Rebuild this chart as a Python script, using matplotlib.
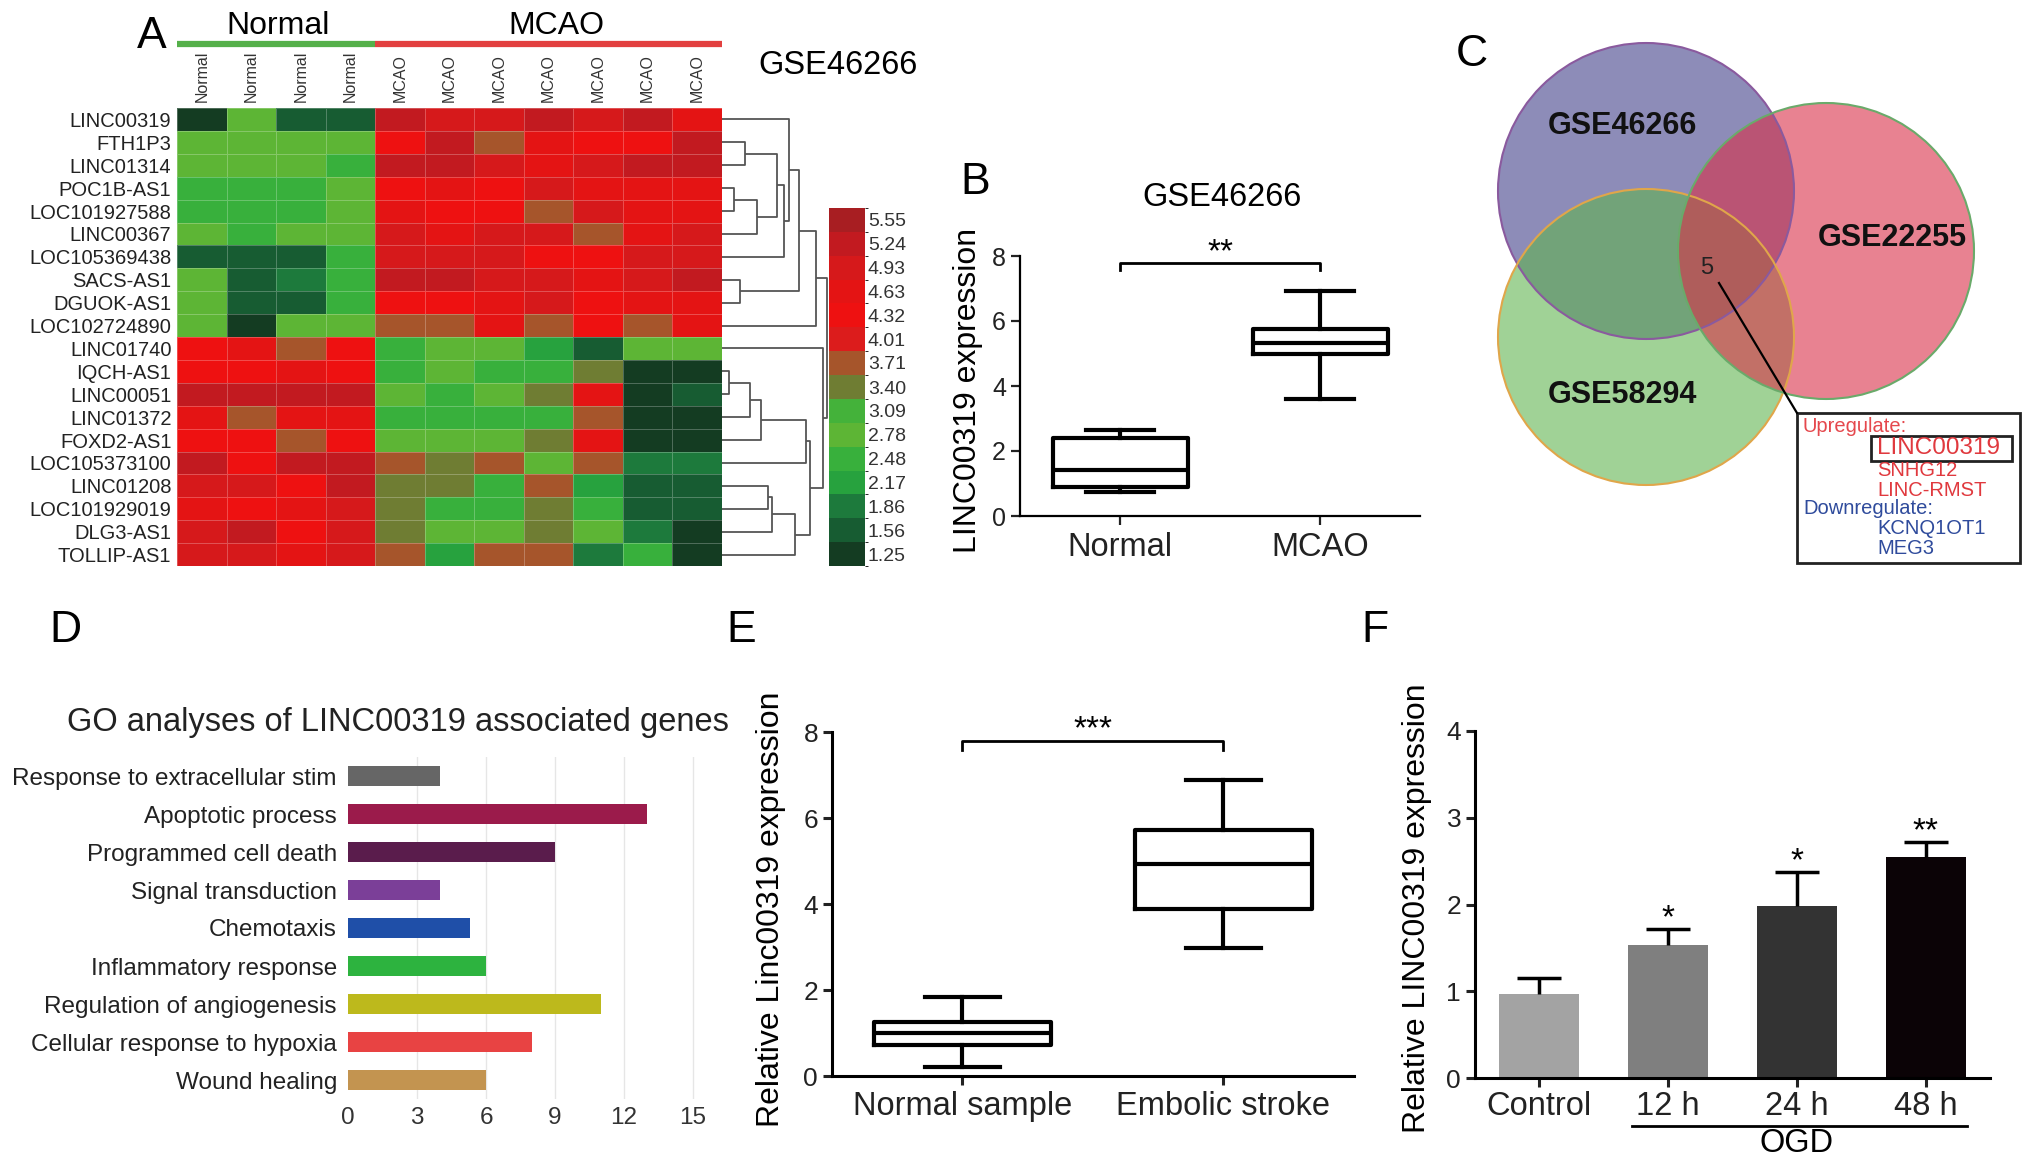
import matplotlib
matplotlib.use("Agg")
import matplotlib.pyplot as plt
import numpy as np
from matplotlib.colors import ListedColormap, BoundaryNorm
from matplotlib.cm import ScalarMappable
from matplotlib.patches import Circle, Rectangle

plt.rcParams['font.family'] = ['Liberation Sans', 'DejaVu Sans']

W, H = 2032, 1165

# ---------------- data ----------------
genes = ['LINC00319', 'FTH1P3', 'LINC01314', 'POC1B-AS1', 'LOC101927588', 'LINC00367',
         'LOC105369438', 'SACS-AS1', 'DGUOK-AS1', 'LOC102724890', 'LINC01740', 'IQCH-AS1',
         'LINC00051', 'LINC01372', 'FOXD2-AS1', 'LOC105373100', 'LINC01208', 'LOC101929019',
         'DLG3-AS1', 'TOLLIP-AS1']
samples = ['Normal'] * 4 + ['MCAO'] * 7
cbar_levels = [1.25, 1.56, 1.86, 2.17, 2.48, 2.78, 3.09, 3.40, 3.71, 4.01, 4.32, 4.63, 4.93, 5.24, 5.55]
cbar_colors = ['#143c22', '#175c32', '#1d7a3c', '#27a23e', '#38b03c', '#5db535', '#44b23a',
               '#6f7d33', '#a6552b', '#dc1c1c', '#ee1111', '#e41414', '#d6191b', '#c21a20', '#a81e22']
# level index (into cbar_levels) of each heatmap cell
heat_idx = [
    [0, 5, 1, 1, 13, 12, 12, 13, 12, 13, 11],
    [5, 5, 5, 5, 10, 13, 8, 11, 10, 10, 13],
    [5, 5, 5, 4, 13, 13, 12, 11, 12, 13, 13],
    [4, 4, 4, 5, 10, 11, 10, 12, 11, 11, 11],
    [4, 4, 4, 5, 11, 10, 10, 8, 12, 11, 11],
    [5, 4, 5, 5, 12, 11, 12, 12, 8, 11, 12],
    [1, 1, 1, 4, 12, 12, 12, 10, 10, 12, 12],
    [5, 1, 2, 4, 13, 13, 12, 12, 11, 12, 13],
    [5, 1, 1, 4, 10, 10, 11, 12, 10, 11, 11],
    [5, 0, 5, 5, 8, 8, 11, 8, 10, 8, 11],
    [10, 11, 8, 10, 4, 5, 5, 3, 1, 5, 5],
    [10, 10, 11, 10, 4, 5, 4, 4, 7, 0, 0],
    [13, 13, 13, 13, 5, 4, 5, 7, 11, 0, 1],
    [11, 8, 11, 11, 4, 4, 4, 4, 8, 0, 0],
    [10, 10, 8, 10, 5, 5, 5, 7, 11, 0, 0],
    [13, 10, 13, 13, 8, 7, 8, 5, 8, 2, 2],
    [12, 12, 10, 13, 7, 7, 4, 8, 3, 1, 1],
    [11, 10, 11, 12, 7, 4, 4, 7, 4, 1, 1],
    [12, 13, 10, 12, 7, 5, 5, 7, 5, 2, 0],
    [12, 12, 11, 12, 8, 3, 8, 8, 2, 4, 0],
]
# row dendrogram merges: (child a, child b, height); new nodes numbered from 20
dendro_merges = [(1, 2, 23), (3, 4, 12), (21, 5, 35), (20, 22, 55), (23, 6, 62), (0, 24, 67),
                 (7, 8, 18), (25, 26, 77), (27, 9, 94), (11, 12, 7), (29, 13, 28), (30, 14, 39),
                 (31, 15, 84), (16, 17, 46), (33, 18, 50), (34, 19, 73), (32, 35, 88),
                 (10, 36, 101), (28, 37, 105)]

b_groups = ['Normal', 'MCAO']
b_whislo = [0.74, 3.60]
b_q1 = [0.89, 4.98]
b_med = [1.41, 5.32]
b_q3 = [2.40, 5.75]
b_whishi = [2.65, 6.92]

venn_sets = ['GSE46266', 'GSE22255', 'GSE58294']
venn_common = 5
up_genes = ['LINC00319', 'SNHG12', 'LINC-RMST']
down_genes = ['KCNQ1OT1', 'MEG3']

go_terms = ['Response to extracellular stim', 'Apoptotic process', 'Programmed cell death',
            'Signal transduction', 'Chemotaxis', 'Inflammatory response',
            'Regulation of angiogenesis', 'Cellular response to hypoxia', 'Wound healing']
go_counts = [4, 13, 9, 4, 5.3, 6, 11, 8, 6]
go_colors = ['#666666', '#9b1b4b', '#5a1c4c', '#7b3f98', '#1f4fa8', '#2db33f',
             '#bdb91c', '#e84343', '#c39450']

e_groups = ['Normal sample', 'Embolic stroke']
e_whislo = [0.21, 2.98]
e_q1 = [0.71, 3.88]
e_med = [1.00, 4.94]
e_q3 = [1.25, 5.71]
e_whishi = [1.83, 6.88]

f_groups = ['Control', '12 h', '24 h', '48 h']
f_mean = [0.97, 1.53, 1.98, 2.55]
f_err = [0.18, 0.19, 0.39, 0.17]
f_stars = ['', '*', '*', '**']
f_colors = ['#a3a3a3', '#7f7f7f', '#333333', '#0b0306']


# ---------------- helpers ----------------
def rect(x0, y0, x1, y1):
    return [x0 / W, 1 - y1 / H, (x1 - x0) / W, (y1 - y0) / H]


fig = plt.figure(figsize=(W / 100, H / 100), dpi=100)


def t(x, y, s, **kw):
    kw.setdefault('ha', 'center')
    kw.setdefault('va', 'center')
    fig.text(x / W, 1 - y / H, s, **kw)


def style_axes(ax, lw):
    for side in ['top', 'right']:
        ax.spines[side].set_visible(False)
    for side in ['left', 'bottom']:
        ax.spines[side].set_linewidth(lw)
    ax.tick_params(direction='out', width=lw, length=6.5, colors='#222222')


def box_panel(ax, groups, whislo, q1, med, q3, whishi, capw):
    stats = []
    for i in range(len(groups)):
        stats.append({'whislo': whislo[i], 'q1': q1[i], 'med': med[i], 'q3': q3[i],
                      'whishi': whishi[i], 'fliers': []})
    lp = dict(color='black', linewidth=3)
    ax.bxp(stats, positions=[1, 2], widths=0.675, capwidths=capw, showfliers=False,
           boxprops=lp, medianprops=lp, whiskerprops=lp, capprops=lp)
    ax.set_xlim(0.5, 2.5)
    ax.set_ylim(0, 8)
    ax.set_yticks([0, 2, 4, 6, 8])
    ax.set_xticks([1, 2])
    ax.set_xticklabels(groups, fontsize=23.5)


def bracket(ax, y, stars):
    ax.plot([1, 1, 2, 2], [y - 0.22, y, y, y - 0.22], color='black', lw=2, clip_on=False)
    ax.text(1.5, y + 0.06, stars, ha='center', va='baseline', fontsize=24, clip_on=False)


# ---------------- A: heatmap ----------------
cmap = ListedColormap(cbar_colors)
bounds = [cbar_levels[0] - 0.155] + [(a + b) / 2 for a, b in zip(cbar_levels[:-1], cbar_levels[1:])] \
         + [cbar_levels[-1] + 0.155]
norm = BoundaryNorm(bounds, cmap.N)
heat_vals = np.array(cbar_levels)[np.array(heat_idx)]

axh = fig.add_axes(rect(177, 108, 722, 566))
axh.pcolormesh(heat_vals, cmap=cmap, norm=norm, edgecolors=(1, 1, 1, 0.25), linewidth=0.6)
axh.set_xlim(0, len(samples))
axh.set_ylim(len(genes), 0)
axh.set_yticks(np.arange(len(genes)) + 0.5)
axh.set_yticklabels(genes, fontsize=14.5, color='#222222')
axh.xaxis.tick_top()
axh.set_xticks(np.arange(len(samples)) + 0.5)
axh.set_xticklabels(samples, rotation=90, fontsize=11.5, color='#333333', va='bottom')
axh.tick_params(length=0, pad=4)
for s in axh.spines.values():
    s.set_visible(False)

# group header bars
axh.plot([0, 4], [-2.8, -2.8], color='#55b04a', lw=4.5, clip_on=False, solid_capstyle='butt')
axh.plot([4, 11], [-2.8, -2.8], color='#e2403f', lw=4.5, clip_on=False, solid_capstyle='butt')
t(278, 26, 'Normal', fontsize=23)
t(556, 26, 'MCAO', fontsize=23)
t(838, 65, 'GSE46266', fontsize=23.5)

# dendrogram
axd = fig.add_axes(rect(722, 108, 829, 566))
pos = {i: (i + 0.5, 0.0) for i in range(len(genes))}
for k, (a, b, h) in enumerate(dendro_merges):
    ya, ha = pos[a]
    yb, hb = pos[b]
    axd.plot([ha, h, h, hb], [ya, ya, yb, yb], color='#555555', lw=1.3, solid_capstyle='butt')
    pos[len(genes) + k] = ((ya + yb) / 2, h)
axd.set_xlim(0, 107)
axd.set_ylim(len(genes), 0)
axd.axis('off')

# colorbar
cax = fig.add_axes(rect(829, 208, 865, 566))
cb = fig.colorbar(ScalarMappable(norm=norm, cmap=cmap), cax=cax, ticks=cbar_levels,
                  spacing='uniform')
cb.outline.set_visible(False)
cb.ax.set_yticklabels(['%.2f' % v for v in cbar_levels])
cb.ax.tick_params(length=0, labelsize=14, pad=2, colors='#333333')

# ---------------- B ----------------
axb = fig.add_axes(rect(1020, 256, 1420, 516))
box_panel(axb, b_groups, b_whislo, b_q1, b_med, b_q3, b_whishi, 0.34)
style_axes(axb, 1.6)
axb.tick_params(axis='y', labelsize=18)
axb.tick_params(axis='x', pad=5)
bracket(axb, 7.78, '**')
t(968, 390, 'LINC00319 expression', rotation=90, fontsize=23)
t(1222, 198, 'GSE46266', fontsize=23.5)

# ---------------- C: venn ----------------
axv = fig.add_axes(rect(1440, 0, 2032, 620))
axv.set_xlim(1440, 2032)
axv.set_ylim(620, 0)
axv.axis('off')
venn_centers = [(1646, 191), (1826, 251), (1646, 337)]
venn_fill = ['#423f89', '#d92f48', '#61b450']
venn_edge = ['#8a5a9e', '#6aaa6a', '#e0a64a']
for i in [0, 2, 1]:
    axv.add_patch(Circle(venn_centers[i], 148, facecolor=venn_fill[i], alpha=0.6, edgecolor='none'))
for i in [0, 2, 1]:
    axv.add_patch(Circle(venn_centers[i], 148, facecolor='none', edgecolor=venn_edge[i], lw=1.5))
venn_label_xy = [(1622, 126), (1892, 238), (1622, 395)]
for name, (x, y) in zip(venn_sets, venn_label_xy):
    axv.text(x, y, name, ha='center', va='center', fontsize=22, fontweight='bold', color='#111111')
axv.text(1707, 268, str(venn_common), ha='center', va='center', fontsize=17, color='#222222')
axv.plot([1719, 1797], [283, 413], color='black', lw=1.6)
axv.add_patch(Rectangle((1797, 413), 223, 150, facecolor='white', edgecolor='#222222', lw=2))
axv.text(1803, 427, 'Upregulate:', ha='left', va='center', fontsize=14.5, color='#e5484d')
axv.add_patch(Rectangle((1871, 436), 141, 25, facecolor='none', edgecolor='#222222', lw=2))
gene_y = [448, 471, 490]
for g, y in zip(up_genes, gene_y):
    axv.text(1877, y, g, ha='left', va='center', fontsize=17.5 if g == 'LINC00319' else 14.5,
             color='#e0393e')
axv.text(1803, 508, 'Downregulate:', ha='left', va='center', fontsize=14.5, color='#2f4b9c')
for g, y in zip(down_genes, [529, 548]):
    axv.text(1877, y, g, ha='left', va='center', fontsize=14.5, color='#2f4b9c')

# ---------------- D: GO bars ----------------
axg = fig.add_axes(rect(348, 757, 716, 1099))
ypos = np.arange(len(go_terms))
axg.barh(ypos, go_counts, height=0.55, color=go_colors, zorder=3)
axg.set_ylim(len(go_terms) - 0.5, -0.5)
axg.set_xlim(0, 16)
axg.set_xticks([0, 3, 6, 9, 12, 15])
for gx in [3, 6, 9, 12, 15]:
    axg.axvline(gx, color='#e6e6e6', lw=1, zorder=1)
axg.set_yticks(ypos)
axg.set_yticklabels(go_terms, fontsize=17.5, color='#222222')
axg.tick_params(axis='x', labelsize=17.5, colors='#333333', pad=6)
axg.tick_params(length=0)
axg.tick_params(axis='y', pad=8)
for s in axg.spines.values():
    s.set_visible(False)
t(398, 722, 'GO analyses of LINC00319 associated genes', fontsize=23.5, color='#222222')

# ---------------- E ----------------
axe = fig.add_axes(rect(832, 732, 1354, 1076))
box_panel(axe, e_groups, e_whislo, e_q1, e_med, e_q3, e_whishi, 0.29)
style_axes(axe, 2.2)
axe.tick_params(axis='y', labelsize=19)
axe.tick_params(axis='x', pad=4)
bracket(axe, 7.8, '***')
t(771, 909, 'Relative Linc00319 expression', rotation=90, fontsize=23)

# ---------------- F ----------------
axf = fig.add_axes(rect(1475, 731, 1990, 1078))
xf = np.arange(len(f_groups))
axf.bar(xf, f_mean, width=0.62, color=f_colors, zorder=2)
f_top = [m + e for m, e in zip(f_mean, f_err)]
# one-sided error bars: stem from bar top, cap only at the upper end
axf.vlines(xf, f_mean, f_top, color='black', lw=2.5, zorder=3)
axf.hlines(f_top, xf - 0.17, xf + 0.17, color='black', lw=2.5, zorder=3)
for x, top, s in zip(xf, f_top, f_stars):
    if s:
        axf.text(x, top + 0.02, s, ha='center', va='baseline', fontsize=24)
axf.set_xlim(-0.5, 3.5)
axf.set_ylim(0, 4)
axf.set_yticks([0, 1, 2, 3, 4])
axf.set_xticks(xf)
axf.set_xticklabels(f_groups, fontsize=23.5)
style_axes(axf, 2.2)
axf.tick_params(axis='y', labelsize=19)
axf.tick_params(axis='x', pad=3)
axf.plot([0.72, 3.32], [-0.138, -0.138], color='black', lw=2,
         transform=axf.get_xaxis_transform(), clip_on=False)
axf.text(2.0, -0.19, 'OGD', ha='center', va='center', fontsize=23.5,
         transform=axf.get_xaxis_transform())
t(1417, 908, 'Relative LINC00319 expression', rotation=90, fontsize=23)

# ---------------- panel letters ----------------
for letter, (x, y) in zip('ABCDEF', [(152, 37), (975, 182), (1472, 55),
                                     (65, 630), (741, 630), (1375, 630)]):
    t(x, y, letter, fontsize=32)

fig.savefig('out.png', dpi=100)
